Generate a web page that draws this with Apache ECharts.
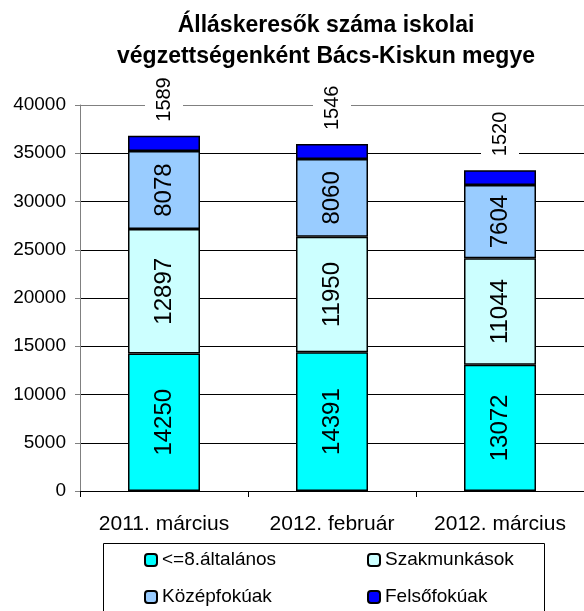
<!DOCTYPE html>
<html>
<head>
<meta charset="utf-8">
<title>Álláskeresők száma iskolai végzettségenként</title>
<script src="https://cdn.jsdelivr.net/npm/echarts@6/dist/echarts.min.js"></script>
<style>
    html, body {
        margin: 0;
        padding: 0;
        background: #fff;
    }

    #chart {
        width: 584px;
        height: 611px;
    }
</style>
</head>
<body>
<div id="chart"></div>
<script>
const categories = ['2011. március', '2012. február', '2012. március']
const altalanos = [14250, 14391, 13072]
const szakmunkasok = [12897, 11950, 11044]
const kozepfokuak = [8078, 8060, 7604]
const felsofokuak = [1589, 1546, 1520]
const yTicks = [0, 5000, 10000, 15000, 20000, 25000, 30000, 35000, 40000]

const font = 'Liberation Sans, Arial, sans-serif'

const chart = echarts.init(document.getElementById('chart'))

// felirat a sávok közepén, függőlegesen
const insideLabel = {
    show: true,
    position: 'inside',
    rotate: 90,
    color: '#000',
    fontFamily: font,
    fontSize: 24
}

const makeSeries = (name, data, color, label) => ({
    name: name,
    type: 'bar',
    stack: 'total',
    data: data,
    barWidth: 72,
    itemStyle: {
        color: color,
        borderColor: '#000',
        borderWidth: 1.5
    },
    label: label
})

const legendBase = {
    orient: 'vertical',
    top: 550,
    height: 60,
    padding: 0,
    itemWidth: 12,
    itemHeight: 12,
    itemGap: 17,
    textStyle: { fontFamily: font, fontSize: 19, lineHeight: 20, color: '#000' }
}

const option = {
    animation: false,
    backgroundColor: '#fff',
    title: {
        text: 'Álláskeresők száma iskolai\nvégzettségenként Bács-Kiskun megye',
        left: 321,
        top: 5,
        textAlign: 'center',
        textStyle: {
            fontFamily: font,
            fontSize: 23,
            fontWeight: 'bold',
            lineHeight: 31,
            color: '#000'
        }
    },
    legend: [
        Object.assign({}, legendBase, {
            data: ['<=8.általános', 'Középfokúak'],
            left: 144
        }),
        Object.assign({}, legendBase, {
            data: ['Szakmunkások', 'Felsőfokúak'],
            left: 367
        })
    ],
    graphic: [
        {
            type: 'rect',
            shape: { x: 103.5, y: 543.5, width: 441, height: 90 },
            style: { fill: 'none', stroke: '#000', lineWidth: 1 },
            silent: true
        }
    ],
    grid: {
        left: 80,
        top: 105,
        width: 513,
        height: 386
    },
    xAxis: {
        type: 'category',
        data: categories,
        axisLine: { lineStyle: { color: '#000', width: 1 } },
        axisTick: { show: true, length: 6, lineStyle: { color: '#000' } },
        axisLabel: {
            interval: 0,
            margin: 23,
            fontFamily: font,
            fontSize: 21,
            color: '#000'
        }
    },
    yAxis: {
        type: 'value',
        min: yTicks[0],
        max: yTicks[yTicks.length - 1],
        interval: yTicks[1] - yTicks[0],
        axisLine: { show: true, lineStyle: { color: '#808080', width: 1 } },
        axisTick: { show: true, length: 5, lineStyle: { color: '#808080' } },
        axisLabel: {
            margin: 14,
            fontFamily: font,
            fontSize: 19,
            color: '#000',
            formatter: (v) => String(v)
        },
        splitLine: {
            lineStyle: {
                color: ['#000', '#000', '#000', '#000', '#000', '#000', '#000', '#000', '#808080'],
                width: 1
            }
        }
    },
    series: [
        makeSeries('<=8.általános', altalanos, '#00ffff', insideLabel),
        makeSeries('Szakmunkások', szakmunkasok, '#ccffff', insideLabel),
        makeSeries('Középfokúak', kozepfokuak, '#99ccff', insideLabel),
        makeSeries('Felsőfokúak', felsofokuak, '#0000ff', {
            show: true,
            position: 'top',
            distance: 12,
            rotate: 90,
            align: 'left',
            verticalAlign: 'middle',
            color: '#000',
            fontFamily: font,
            fontSize: 20,
            backgroundColor: '#fff',
            padding: [9, 2]
        })
    ]
}

chart.setOption(option)

window.addEventListener('resize', () => {
    chart.resize()
})
</script>
</body>
</html>
